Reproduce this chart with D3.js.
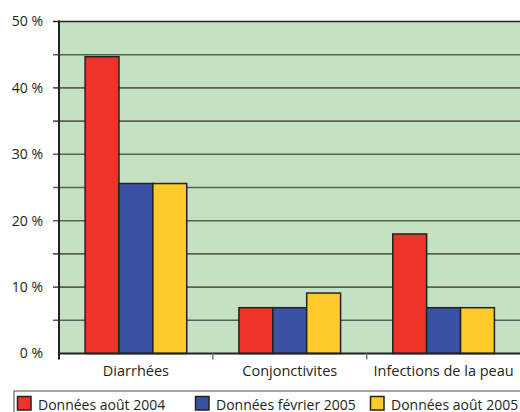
<!DOCTYPE html>
<html>
<head>
<meta charset="utf-8">
<script src="https://cdn.jsdelivr.net/npm/d3@7"></script>
<style>
body { margin: 0; background: #fff; }
svg { display: block; font-family: "Open Sans", sans-serif; }
</style>
</head>
<body>
<script>
var w = 520;
var h = 412;

var categories = ["Diarrhées", "Conjonctivites", "Infections de la peau"];
var series = ["Données août 2004", "Données février 2005", "Données août 2005"];
var aout2004 = [44.7, 6.9, 18.0];
var fevrier2005 = [25.6, 6.9, 6.9];
var aout2005 = [25.6, 9.1, 6.9];
var yTicks = [0, 10, 20, 30, 40, 50];
var gridTicks = [5, 10, 15, 20, 25, 30, 35, 40, 45, 50];
var colors = ["#ee3329", "#3a52a3", "#ffcb2c"];

var values = [aout2004, fevrier2005, aout2005];
var pLeft = 59, pRight = 520.5, pTop = 21.5, pBottom = 353.5;

var svg = d3.select("body").append("svg")
    .attr("width", w)
    .attr("height", h);

var x0 = d3.scaleBand()
    .domain(categories)
    .range([pLeft, pRight]);

var x1 = d3.scaleBand()
    .domain(series)
    .range([0, x0.bandwidth()])
    .paddingInner(0)
    .paddingOuter(0.77);

var y = d3.scaleLinear()
    .domain([0, 50])
    .range([pBottom, pTop]);

// plot background
svg.append("rect")
    .attr("x", pLeft)
    .attr("y", pTop)
    .attr("width", pRight - pLeft)
    .attr("height", pBottom - pTop)
    .attr("fill", "#c4e2c2");

// grid lines
svg.selectAll("line.grid")
    .data(gridTicks)
    .enter()
    .append("line")
    .attr("class", "grid")
    .attr("x1", pLeft - 6)
    .attr("x2", pRight)
    .attr("y1", function(d) { return y(d); })
    .attr("y2", function(d) { return y(d); })
    .attr("stroke", function(d) { return d == 50 ? "#222" : "#596057"; })
    .attr("stroke-width", 1.6);

// bars
var groups = svg.selectAll("g.cat")
    .data(categories)
    .enter()
    .append("g")
    .attr("class", "cat")
    .attr("transform", function(d) { return "translate(" + x0(d) + ",0)"; });

groups.selectAll("rect")
    .data(function(d, i) {
        return series.map(function(s, j) {
            return { s: s, v: values[j][i], c: colors[j] };
        });
    })
    .enter()
    .append("rect")
    .attr("x", function(d) { return x1(d.s); })
    .attr("y", function(d) { return y(d.v); })
    .attr("width", x1.bandwidth())
    .attr("height", function(d) { return y(0) - y(d.v); })
    .attr("fill", function(d) { return d.c; })
    .attr("stroke", "#222")
    .attr("stroke-width", 1.5);

// y axis
var yAxis = d3.axisLeft(y)
    .tickValues(yTicks)
    .tickSize(0)
    .tickPadding(16)
    .tickFormat(function(d) { return d + " %"; });

var gy = svg.append("g")
    .attr("transform", "translate(" + pLeft + ",0)")
    .call(yAxis);
gy.select(".domain").remove();
gy.selectAll("text")
    .attr("font-size", "14px")
    .attr("font-family", "Open Sans, sans-serif")
    .attr("fill", "#231f20");

svg.append("line")
    .attr("x1", pLeft)
    .attr("x2", pLeft)
    .attr("y1", pTop - 1)
    .attr("y2", pBottom + 6)
    .attr("stroke", "#222")
    .attr("stroke-width", 2);

// x axis
var xAxis = d3.axisBottom(x0)
    .tickSize(0)
    .tickPadding(12);

var gx = svg.append("g")
    .attr("transform", "translate(0," + pBottom + ")")
    .call(xAxis);
gx.select(".domain").remove();
gx.selectAll("text")
    .attr("font-size", "14.5px")
    .attr("font-family", "Open Sans, sans-serif")
    .attr("fill", "#231f20");

svg.append("line")
    .attr("x1", pLeft)
    .attr("x2", pRight)
    .attr("y1", pBottom)
    .attr("y2", pBottom)
    .attr("stroke", "#222")
    .attr("stroke-width", 2);

// category separator ticks
svg.selectAll("line.xtick")
    .data(categories.slice(1))
    .enter()
    .append("line")
    .attr("class", "xtick")
    .attr("x1", function(d) { return x0(d); })
    .attr("x2", function(d) { return x0(d); })
    .attr("y1", pBottom)
    .attr("y2", pBottom + 6)
    .attr("stroke", "#777")
    .attr("stroke-width", 1.5);

// legend
svg.append("rect")
    .attr("x", 14)
    .attr("y", 391)
    .attr("width", 520)
    .attr("height", 40)
    .attr("fill", "none")
    .attr("stroke", "#444")
    .attr("stroke-width", 1);

var legendX = [17.5, 195.5, 370.5];

var legend = svg.selectAll("g.legend")
    .data(series)
    .enter()
    .append("g")
    .attr("class", "legend")
    .attr("transform", function(d, i) { return "translate(" + legendX[i] + ",396.5)"; });

legend.append("rect")
    .attr("width", 13.5)
    .attr("height", 13.5)
    .attr("fill", function(d, i) { return colors[i]; })
    .attr("stroke", "#222")
    .attr("stroke-width", 1.5);

legend.append("text")
    .attr("x", 20.5)
    .attr("y", 13.5)
    .attr("font-size", "14px")
    .attr("fill", "#231f20")
    .text(function(d) { return d; });
</script>
</body>
</html>
